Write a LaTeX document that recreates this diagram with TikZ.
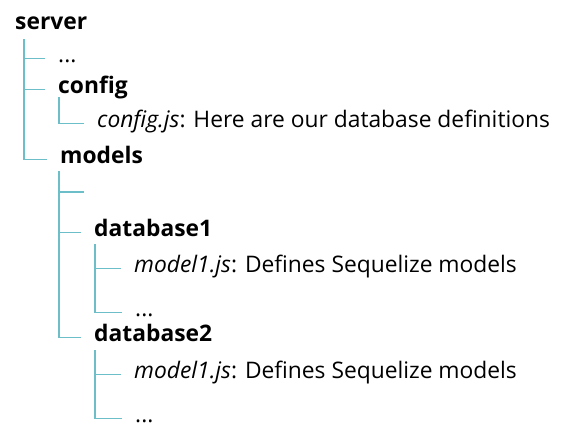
\documentclass[tikz,border=0pt]{standalone}
\usepackage{fontspec}
\setmainfont{Open Sans}
\usepackage{xcolor}
\usetikzlibrary{positioning}

\definecolor{treeline}{HTML}{6CBFC9}
\tikzset{
  entry/.style={anchor=base west, inner sep=0pt, font=\fontsize{22.8}{27}\selectfont},
  folder/.style={entry, font=\fontsize{22.8}{27}\selectfont\bfseries},
  branch/.style={draw=treeline, line width=1.3pt},
}

\begin{document}
\begin{tikzpicture}[x=1pt, y=-1pt]
  \useasboundingbox (0,0) rectangle (571,442);

  % Settings
  \def\gap{13pt}

  % Folders and files
  \node[folder] (server) at (15,29) {server};
  \node[entry] (serverdots) at (58,62) {...};
  \node[folder] (config) at (58,93) {config};
  \node[entry] (configjs) at (97,127) {{\itshape config.js}: Here are our database definitions};
  \node[folder] (models) at (60,163) {models};
  \node[folder] (dbone) at (94,236) {database1};
  \node[entry] (dbonemodel) at (134,272) {{\itshape model1.js}: Defines Sequelize models};
  \node[entry] (dbonedots) at (135,316) {...};
  \node[folder] (dbtwo) at (94,341) {database2};
  \node[entry] (dbtwomodel) at (134,378) {{\itshape model1.js}: Defines Sequelize models};
  \node[entry] (dbtwodots) at (135,422) {...};

  % Tops of the tree lines
  \coordinate (servertrunk) at ([xshift=9pt, yshift=-10pt]server.base west);
  \coordinate (configtrunk) at ([xshift=1pt, yshift=-4pt]config.base west);
  \coordinate (modelstrunk) at ([xshift=-1pt, yshift=-8pt]models.base west);
  \coordinate (dbonetrunk) at ([xshift=1pt, yshift=-8pt]dbone.base west);
  \coordinate (dbtwotrunk) at ([xshift=1pt, yshift=-9pt]dbtwo.base west);
  \coordinate (modelsempty) at (84,192);

  % Tree lines
  \foreach \parent/\child in {server/serverdots, server/config, server/models,
      config/configjs, models/dbone, models/dbtwo,
      dbone/dbonemodel, dbone/dbonedots, dbtwo/dbtwomodel, dbtwo/dbtwodots} {
    \draw[branch] (\parent trunk) |- ([xshift=-\gap, yshift=1pt]\child.mid west);
  }
  \draw[branch] (modelstrunk) |- (modelsempty);
\end{tikzpicture}
\end{document}
